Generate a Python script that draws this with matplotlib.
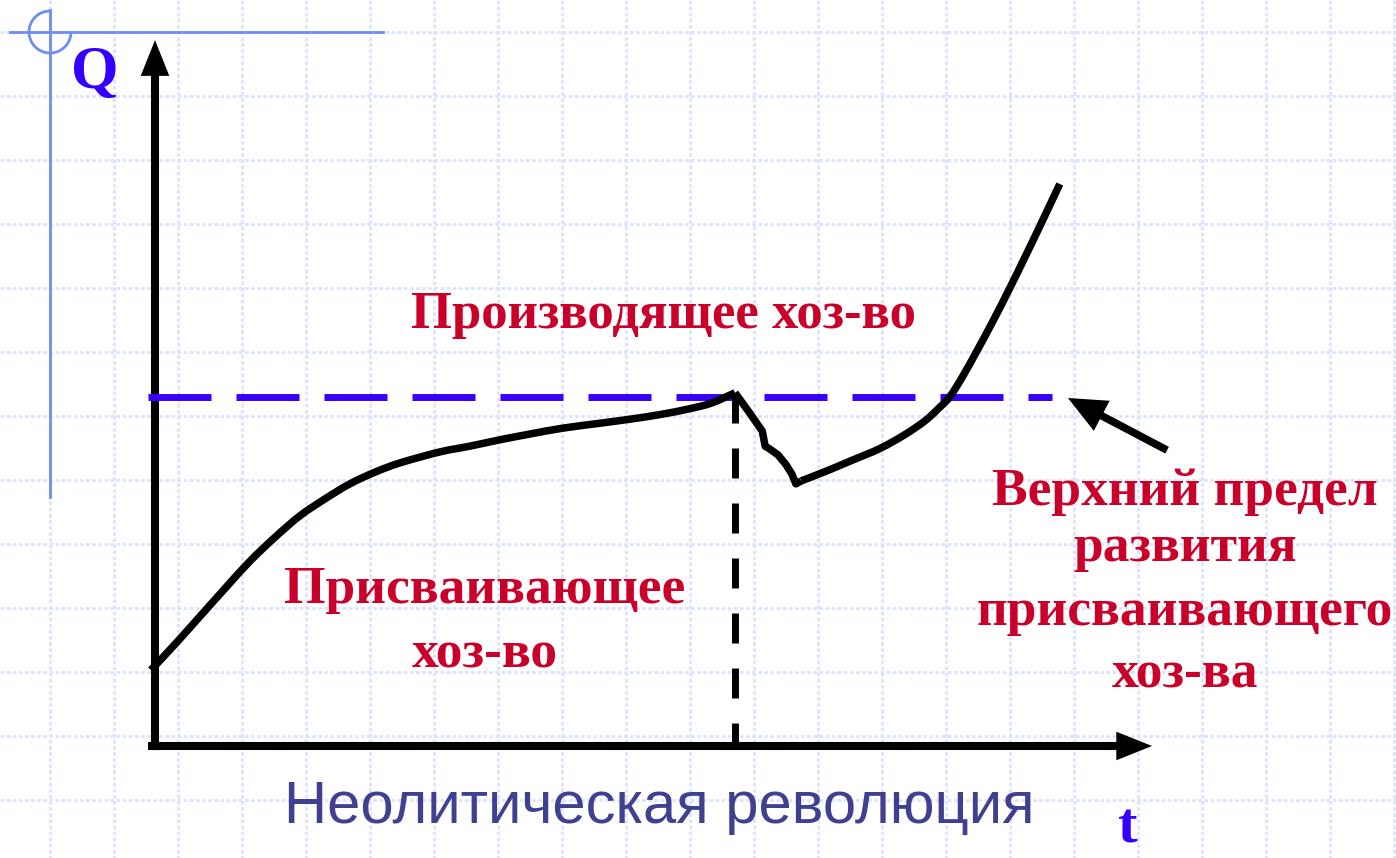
import matplotlib
matplotlib.use("Agg")
import matplotlib.pyplot as plt
from matplotlib.patches import Arc, PathPatch
from matplotlib.path import Path

# ---------------- data ----------------
# assimilating (hunter-gatherer) economy curve
t_assim = [-0.07, 0.35, 0.78, 1.21, 1.64, 2.07, 2.50, 2.93, 3.36, 3.79,
           4.22, 4.91, 5.43, 5.95, 6.47, 7.03, 7.67, 8.19, 8.71, 9.22,
           9.60, 10.00]
q_assim = [1.31, 1.76, 2.24, 2.72, 3.19, 3.60, 3.97, 4.26, 4.52, 4.72,
           4.88, 5.07, 5.17, 5.28, 5.38, 5.48, 5.565, 5.635, 5.715, 5.815,
           5.915, 6.09]
# crisis drop after the Neolithic revolution
t_drop = [10.00, 10.24, 10.47, 10.52, 10.60, 10.74, 10.88, 10.98, 11.05, 11.14]
q_drop = [6.09, 5.76, 5.43, 5.17, 5.12, 5.02, 4.85, 4.69, 4.52, 4.57]
# producing economy curve
t_prod = [11.14, 11.55, 11.98, 12.50, 12.93, 13.28, 13.53, 13.71, 13.93,
          14.17, 14.45, 14.74, 15.00, 15.26, 15.60]
q_prod = [4.57, 4.73, 4.91, 5.13, 5.37, 5.61, 5.84, 6.03, 6.38,
          6.81, 7.33, 7.90, 8.43, 8.97, 9.69]

Q_LIMIT = 6.02          # upper limit of the assimilating economy
T_REVOLUTION = 10.0     # moment of the Neolithic revolution
T_LIMIT_END = 15.47
T_AXIS_MAX = 17.19
Q_AXIS_MAX = 12.17

label_production = "Производящее хоз-во"
label_assim = ["Присваивающее", "хоз-во"]
label_limit = ["Верхний предел", "развития", "присваивающего", "хоз-ва"]
label_revolution = "Неолитическая революция"
label_q = "Q"
label_t = "t"


def smooth_path(xs, ys):
    """Bezier path passing through the given points (Catmull-Rom style)."""
    pts = list(zip(xs, ys))
    n = len(pts)
    verts = [pts[0]]
    codes = [Path.MOVETO]
    for i in range(n - 1):
        p0 = pts[i - 1] if i > 0 else pts[i]
        p1 = pts[i]
        p2 = pts[i + 1]
        p3 = pts[i + 2] if i + 2 < n else pts[i + 1]
        c1 = (p1[0] + (p2[0] - p0[0]) / 6, p1[1] + (p2[1] - p0[1]) / 6)
        c2 = (p2[0] - (p3[0] - p1[0]) / 6, p2[1] - (p3[1] - p1[1]) / 6)
        verts += [c1, c2, p2]
        codes += [Path.CURVE4] * 3
    return Path(verts, codes)


# ---------------- figure ----------------
W, H = 1396, 858
fig = plt.figure(figsize=(W / 100, H / 100), dpi=100)
fig.patch.set_facecolor("white")

# background slide decoration (pixel coordinates)
bg = fig.add_axes([0, 0, 1, 1])
bg.set_xlim(0, W)
bg.set_ylim(H, 0)
bg.axis("off")
grid_c = "#dce5fa"
for gx in range(50, W, 64):
    bg.plot([gx, gx], [0, H], color=grid_c, lw=2.2, ls=(0, (1.2, 0.8)), zorder=0)
for gy in range(32, H, 64):
    bg.plot([0, W], [gy, gy], color=grid_c, lw=2.2, ls=(0, (1.2, 0.8)), zorder=0)
deco = "#6f8cf7"
bg.plot([10, 383], [32, 32], color=deco, lw=2.0, zorder=1)
bg.plot([50, 50], [10, 497], color=deco, lw=2.0, zorder=1)
bg.add_patch(Arc((50, 32), 42, 42, theta1=0, theta2=270, color=deco, lw=2.0, zorder=1))

# main data axes: origin at pixel (155, 746), 58 px per unit
S = 58.0
ax = fig.add_axes([0, 0, 1, 1])
ax.set_xlim(-155 / S, (W - 155) / S)
ax.set_ylim(-(H - 746) / S, 746 / S)
ax.patch.set_alpha(0)
ax.axis("off")

LW_AX = 5.8
arrow_axis = dict(arrowstyle="-|>,head_length=0.75,head_width=0.3",
                  mutation_scale=20, lw=LW_AX, color="black",
                  shrinkA=0, shrinkB=0, joinstyle="miter", capstyle="butt")
ax.annotate("", xy=(0, Q_AXIS_MAX), xytext=(0, -0.07), arrowprops=arrow_axis)
ax.annotate("", xy=(T_AXIS_MAX, 0), xytext=(-0.12, 0), arrowprops=arrow_axis)

# upper limit dashed line
lw_d = 5.0
px_per_lw = lw_d * 100 / 72
ax.plot([-0.12, T_LIMIT_END], [Q_LIMIT, Q_LIMIT], color="#3a00ff", lw=lw_d,
        dashes=(63 / px_per_lw, 25 / px_per_lw), dash_capstyle="butt", zorder=3)
# revolution vertical dashed line
ax.plot([T_REVOLUTION, T_REVOLUTION], [q_assim[-1], 0], color="black", lw=lw_d,
        dashes=(30 / px_per_lw, 25 / px_per_lw), dash_capstyle="butt", zorder=3)

# curves
LW_C = 5.4
for xs, ys in [(t_assim, q_assim), (t_prod, q_prod)]:
    ax.add_patch(PathPatch(smooth_path(xs, ys), facecolor="none", edgecolor="black",
                           lw=LW_C, joinstyle="round", capstyle="butt", zorder=4))
ax.plot(t_drop, q_drop, color="black", lw=LW_C, solid_joinstyle="round",
        solid_capstyle="butt", zorder=4)

# pointer arrow to the limit line
ax.annotate("", xy=(15.74, 6.0), xytext=(17.45, 5.10),
            arrowprops=dict(arrowstyle="-|>,head_length=0.9,head_width=0.4",
                            mutation_scale=20, lw=5.5, color="black",
                            shrinkA=0, shrinkB=0, joinstyle="miter", capstyle="butt"))

# texts
red = "#c8002a"
serif = ["Liberation Serif", "DejaVu Serif"]
ax.text(8.76, 7.21, label_production, color=red, fontsize=38, fontweight="bold",
        family=serif, ha="center", va="baseline")
for s, q in zip(label_assim, [2.47, 1.35]):
    ax.text(5.69, q, s, color=red, fontsize=38.5, fontweight="bold",
            family=serif, ha="center", va="baseline")
for s, q in zip(label_limit, [4.16, 3.19, 2.09, 1.00]):
    ax.text(17.76, q, s, color=red, fontsize=38.5, fontweight="bold",
            family=serif, ha="center", va="baseline")
ax.text(8.69, -1.33, label_revolution, color="#404090", fontsize=43,
        family=["Liberation Sans", "DejaVu Sans"], ha="center", va="baseline")
ax.text(-1.04, 11.35, label_q, color="#3300ff", fontsize=44, fontweight="bold",
        family=serif, ha="center", va="baseline")
ax.text(16.78, -1.66, label_t, color="#3300ff", fontsize=42, fontweight="bold",
        family=serif, ha="center", va="baseline")

fig.savefig("out.png", dpi=100, facecolor="white")
